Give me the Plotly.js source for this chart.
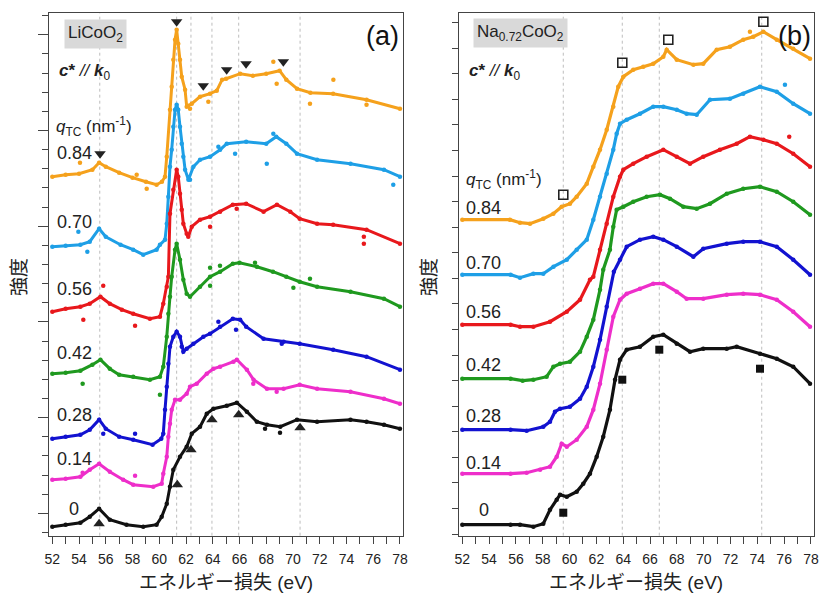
<!DOCTYPE html>
<html><head><meta charset="utf-8">
<script src="https://cdn.plot.ly/plotly-3.0.1.min.js"></script>
<style>html,body{margin:0;padding:0;background:#fff}#chart{width:822px;height:594px}</style>
</head><body><div id="chart"></div>
<script>
// ---------- data ----------
const qLabels = ['0.84', '0.70', '0.56', '0.42', '0.28', '0.14', '0'];
const seriesColors = ['#F5A11C', '#1E9FE6', '#E8181C', '#1F991F', '#1212D0', '#EE2ECA', '#111111'];

// Panel (a) LiCoO2 : energy loss (eV) and offset intensity (arb. units)
const a084E = [52,53,54,55,55.5,56,57,58,59,59.8,60.2,60.43,60.56,60.8,60.93,61.05,61.18,61.3,61.42,61.55,61.68,61.93,62.05,62.15,62.43,63.05,63.8,64.3,64.7,65,66.05,67,68,69,69.5,70.3,71.3,73,75.5,78];
const a084I = [35.9,36.1,36.2,36.6,37.3,36.9,36.3,35.8,35.4,35.1,35.4,35.9,37.9,42.6,44.9,47.6,49.6,50.6,49.2,47.6,45.9,44.6,42.9,43.0,43.2,43.9,44.2,44.5,45.6,45.7,46.2,46.0,46.2,46.5,45.6,44.7,44.3,44.2,43.6,42.7];
const a070E = [52,53,54.1,54.8,55.5,56,57.1,58.05,58.8,59.8,60.05,60.43,60.56,60.68,60.8,60.93,61.05,61.18,61.3,61.42,61.55,61.68,61.8,61.93,62.18,62.55,63.05,63.8,64.55,65.05,66.5,68,68.75,69.5,70.3,71.8,74.3,76.8,78];
const a070I = [28.9,29.0,29.1,29.4,30.7,29.9,29.1,28.6,28.1,28.6,29.1,29.6,31.2,33.9,36.9,38.6,40.9,42.6,43.1,42.6,40.9,39.2,37.9,36.6,35.6,36.9,37.6,37.9,38.6,39.2,39.4,39.2,39.9,39.2,38.2,37.6,37.2,36.6,35.9];
const a056E = [52,53,54.1,54.8,55.6,56.3,57.2,58.05,59.3,60.05,60.3,60.56,60.68,60.8,61.05,61.3,61.42,61.55,61.68,61.8,62.05,62.17,62.43,63.05,63.8,64.55,65.5,66.5,67.8,68.8,69.8,70.5,71.8,73,75.5,78];
const a056I = [22.4,22.7,22.9,23.2,23.9,23.2,22.6,22.2,21.7,21.9,23.2,24.9,25.9,32.2,34.6,36.6,35.9,34.2,32.6,31.2,30.2,29.9,30.9,31.6,31.9,32.4,33.1,33.2,32.4,33.1,32.4,31.7,31.2,31.1,30.6,29.2];
const a042E = [52,53,54.1,55,55.6,56.3,57,58.05,59.3,60.05,60.3,60.56,60.68,60.8,60.93,61.18,61.3,61.55,61.8,62.05,62.3,63.05,63.8,64.55,65.5,66,67.3,68.5,69.5,70.5,71.8,74.3,76.8,78];
const a042I = [16.2,16.3,16.5,17.1,17.6,16.7,16.1,15.9,15.6,15.9,16.9,19.9,22.2,23.9,25.9,28.6,29.2,27.6,25.6,24.2,23.9,24.9,25.9,26.4,27.2,27.3,26.9,26.4,25.9,25.4,24.9,24.4,23.7,22.9];
const a028E = [52,53,54.1,54.8,55.5,56,57,58.05,59.5,60.15,60.3,60.43,60.56,60.68,60.8,61.05,61.3,61.55,61.68,61.8,62.05,62.55,63.3,63.8,64.55,65.5,66.05,66.5,67.8,69.3,70.5,73,75.5,78];
const a028I = [9.7,9.9,10.1,10.6,11.6,10.7,9.9,9.6,9.1,9.7,10.2,12.6,14.9,17.2,18.9,19.9,20.4,19.9,18.9,18.4,18.7,19.2,19.9,20.2,20.9,21.7,21.6,20.9,19.7,19.4,19.2,18.6,17.9,16.6];
const a014E = [52,53,54.1,54.8,55.5,56.3,57.3,58.05,59.55,60.18,60.3,60.56,60.68,60.8,60.93,61.18,61.55,62.05,62.3,62.8,63.55,64.05,64.55,65.55,65.8,66.55,67.05,68.05,69.3,70.5,71.8,74.3,76.8,78];
const a014I = [5.6,5.7,5.9,6.6,7.2,6.4,5.6,5.1,4.9,5.2,6.2,7.9,9.9,11.2,12.6,13.6,13.6,14.2,14.9,15.2,16.2,16.7,16.9,17.4,17.6,16.6,15.6,14.7,14.7,15.1,14.7,14.4,13.7,13.2];
const a000E = [52,53,54.1,54.8,55.5,56.3,57.55,58.8,59.8,60.18,60.56,60.8,61.05,61.55,62.05,62.43,63.05,63.55,64.05,65.05,65.8,66.55,67.3,68.05,69.05,70.3,71.8,74.3,75.5,76.8,78];
const a000I = [0.9,1.1,1.3,1.9,2.7,1.6,1.1,0.9,1.1,1.9,3.2,4.9,6.6,7.9,8.9,10.2,10.9,12.2,12.7,13.0,13.3,12.4,11.4,11.1,10.9,11.6,11.4,11.6,11.4,11.1,10.7];

// scattered (outlying) points of panel (a), per series
const aOutE = [[54.07,58.31,59.06,62.3,63.67,68.53,68.78,71.27,73.02,75.5],
               [53.95,54.62,62.3,64.42,65.67,68.04,68.53,77.5],
               [54.32,55.81,58.19,63.8,65.79,75.3,75.3],
               [54.27,60.05,63.8,63.8,64.54,67.16,70.03,71.27],
               [55.81,58.19,64.42,65.74,69.16],
               [54.27,58.19,67.03,68.78],
               [67.91,69.03]];
const aOutI = [[37.3,36.1,34.7,42.7,43.4,47.4,45.2,43.2,45.6,43.1],
               [30.4,28.4,35.6,38.9,38.2,37.2,40.2,35.1],
               [21.6,25.0,21.0,30.9,32.7,29.9,29.2],
               [15.2,14.1,26.8,25.0,27.0,27.3,24.8,25.7],
               [10.2,10.2,21.4,20.6,19.2],
               [6.3,6.0,15.2,14.4],
               [10.7,10.3]];

// Panel (b) Na0.72CoO2
const b084E = [52,55.55,56.3,57.05,58.04,58.79,59.41,60.03,60.53,61.28,61.77,62.27,62.77,63.26,63.63,64.01,64.75,65.5,66.24,66.99,67.24,67.99,69.23,69.97,70.97,71.96,72.95,73.7,74.45,75.45,76.68,77.93];
const b084I = [31.6,31.6,31.3,31.2,31.7,32.2,32.9,33.2,33.9,35.2,36.9,38.6,40.6,42.9,44.9,45.9,46.6,46.9,47.2,47.9,48.6,47.6,47.1,47.2,48.6,48.9,49.6,49.9,50.4,49.6,48.7,47.7];
const b070E = [52,55.6,56.3,57.3,58.04,58.8,59.79,60.53,61.28,61.77,62.27,62.77,63.26,63.51,63.76,64.26,65.25,66.24,66.99,67.99,68.73,69.48,70.47,71.96,72.95,74.2,75.45,76.68,77.93];
const b070I = [26.1,26.1,25.8,26.2,26.2,26.9,27.6,28.6,29.6,31.6,33.9,36.2,38.6,40.2,41.2,41.6,42.2,42.9,42.9,42.6,42.2,42.1,43.6,43.7,44.2,44.9,44.4,43.2,42.2];
const b056E = [52,55.6,56.3,57.3,58.54,59.79,60.78,61.52,61.77,62.27,62.77,63.26,63.76,64.01,64.75,65.75,66.99,67.99,68.98,69.97,71.21,72.46,73.45,74.45,75.45,76.68,77.93];
const b056I = [21.1,21.1,20.9,20.9,21.4,22.4,23.6,25.6,25.9,28.6,31.2,33.9,35.9,36.6,37.2,37.9,38.6,37.9,37.2,37.9,38.6,39.2,39.9,39.6,39.2,38.2,36.9];
const b042E = [52,55.6,56.5,57.3,58.29,58.79,59.29,60.03,60.78,61.28,61.77,62.27,62.51,63.01,63.26,63.51,64.01,64.75,65.75,66.74,67.49,68.48,69.48,70.47,71.72,72.95,74.2,75.45,76.68,77.93];
const b042I = [15.7,15.7,15.5,15.6,15.9,16.9,17.2,17.4,18.4,19.9,21.6,24.6,26.6,28.6,30.9,32.6,32.9,33.4,33.9,34.1,33.7,32.9,32.7,33.2,34.2,34.7,34.9,34.4,33.4,32.1];
const b028E = [52,55.6,56.8,58.04,58.54,58.91,59.29,60.03,60.78,61.28,61.77,62.27,62.77,63.3,63.76,64.26,65.25,66.24,66.99,67.99,69.23,69.97,71.72,72.95,74.2,75.45,76.68,77.93];
const b028I = [10.6,10.6,10.5,10.9,11.4,12.4,12.7,12.9,13.7,14.9,16.9,19.6,22.9,26.4,27.6,28.9,29.6,29.9,29.6,28.9,27.9,28.7,29.2,29.4,29.4,28.9,27.6,26.1];
const b014E = [52,55.6,56.8,57.8,58.54,59.04,59.41,59.79,60.53,61.28,61.77,62.27,62.77,63.26,63.76,64.26,65.25,66.24,66.99,67.99,68.73,69.97,71.72,72.95,74.2,75.45,76.68,77.93];
const b014I = [6.2,6.2,6.3,6.6,6.9,7.9,9.2,8.9,9.6,10.9,12.6,15.2,18.6,21.9,23.6,24.2,24.7,25.2,25.2,24.4,23.7,23.7,24.1,24.2,24.1,23.6,22.4,20.9];
const b000E = [52,55.6,56.3,57.3,58.04,58.54,59.04,59.29,59.79,60.53,61.02,61.52,62.02,62.51,63.01,63.39,63.76,64.26,65.25,66.24,66.99,67.99,68.98,69.97,71.72,72.46,74.2,75.45,76.68,77.93];
const b000I = [1.1,1.1,1.1,0.9,1.2,2.6,3.6,4.1,3.9,4.4,5.2,6.2,7.9,9.9,12.6,15.6,17.6,18.6,18.9,19.9,20.1,19.2,18.4,18.7,18.7,18.9,18.2,17.7,16.9,15.2];

// scattered (outlying) points of panel (b), per series
const bOutE = [[73.45], [76.06], [76.38], [], [], [], []];
const bOutI = [[50.4], [45.1], [39.9], [], [], [], []];

// feature markers and guide lines
const aDownE = [55.57, 61.3, 63.29, 65.04, 66.49, 69.28];
const aDownI = [38.2, 51.4, 45.0, 46.6, 47.2, 47.4];
const aUpE = [55.5, 61.35, 62.37, 63.94, 65.94, 70.53];
const aUpI = [1.2, 5.1, 8.6, 11.6, 12.1, 10.8];
const aGuideE = [55.55, 61.3, 62.37, 63.94, 65.94, 70.53];
const bOpenE = [59.53, 63.93, 67.36, 74.45];
const bOpenI = [34.1, 47.3, 49.6, 51.4];
const bFillE = [59.53, 63.93, 66.69, 74.2];
const bFillI = [2.3, 15.6, 18.6, 16.7];
const bGuideE = [59.53, 63.93, 66.69, 74.33];

const xTitle = 'エネルギー損失 (eV)';
const yTitle = '強度';

// ---------- build ----------
const W = 822, H = 594;
const PX = x => x / W, PY = y => 1 - y / H;
const FONT = 'Liberation Sans, Arial, Noto Sans CJK JP, sans-serif';

const aSets = [[a084E,a084I],[a070E,a070I],[a056E,a056I],[a042E,a042I],[a028E,a028I],[a014E,a014I],[a000E,a000I]];
const bSets = [[b084E,b084I],[b070E,b070I],[b056E,b056I],[b042E,b042I],[b028E,b028I],[b014E,b014I],[b000E,b000I]];

const traces = [];
aSets.forEach((s, i) => traces.push({x: s[0], y: s[1], xaxis: 'x', yaxis: 'y', mode: 'lines+markers',
  line: {color: seriesColors[i], width: 3}, marker: {color: seriesColors[i], size: 4.5}, name: qLabels[i], hoverinfo: 'x+y'}));
bSets.forEach((s, i) => traces.push({x: s[0], y: s[1], xaxis: 'x2', yaxis: 'y2', mode: 'lines+markers',
  line: {color: seriesColors[i], width: 3.2}, marker: {color: seriesColors[i], size: 4.5}, name: qLabels[i], hoverinfo: 'x+y'}));
aOutE.forEach((e, i) => traces.push({x: e, y: aOutI[i], xaxis: 'x', yaxis: 'y', mode: 'markers', marker: {color: seriesColors[i], size: 4.5}}));
bOutE.forEach((e, i) => { if (e.length) traces.push({x: e, y: bOutI[i], xaxis: 'x2', yaxis: 'y2', mode: 'markers', marker: {color: seriesColors[i], size: 4.5}}); });
traces.push({x: aDownE, y: aDownI, xaxis: 'x', yaxis: 'y', mode: 'markers', marker: {symbol: 'triangle-down', size: 10, color: '#222'}});
traces.push({x: aUpE, y: aUpI, xaxis: 'x', yaxis: 'y', mode: 'markers', marker: {symbol: 'triangle-up', size: 10, color: '#222'}});
traces.push({x: bOpenE, y: bOpenI, xaxis: 'x2', yaxis: 'y2', mode: 'markers', marker: {symbol: 'square-open', size: 9, color: '#222', line: {width: 1.6, color: '#222'}}});
traces.push({x: bFillE, y: bFillI, xaxis: 'x2', yaxis: 'y2', mode: 'markers', marker: {symbol: 'square', size: 8, color: '#111'}});

const shapes = [];
aGuideE.forEach(e => shapes.push({type: 'line', xref: 'x', yref: 'y domain', x0: e, x1: e, y0: 0, y1: 1, layer: 'below', line: {color: '#bdbdbd', width: 1, dash: 'dot'}}));
bGuideE.forEach(e => shapes.push({type: 'line', xref: 'x2', yref: 'y2 domain', x0: e, x1: e, y0: 0, y1: 1, layer: 'below', line: {color: '#bdbdbd', width: 1, dash: 'dot'}}));

const txt = (text, x, y, opts) => Object.assign({text: text, x: PX(x), y: PY(y), xref: 'paper', yref: 'paper', showarrow: false,
  xanchor: 'center', yanchor: 'middle', font: {family: FONT, size: 18, color: '#222'}}, opts || {});

const annotations = [];
const aLabelY = [153, 221.7, 289.3, 353.3, 415, 459.3, 509.3];
const bLabelY = [208.3, 262.7, 311.7, 365, 416, 463.3, 510];
qLabels.forEach((q, i) => { annotations.push(txt(q, 74, aLabelY[i])); annotations.push(txt(q, 484, bLabelY[i])); });
annotations.push(txt('LiCoO<sub>2</sub>', 95, 34, {bgcolor: '#d9d9d9', borderpad: 3, font: {family: FONT, size: 17, color: '#222'}}));
annotations.push(txt('Na<sub>0.72</sub>CoO<sub>2</sub>', 520, 33, {bgcolor: '#d9d9d9', borderpad: 3, font: {family: FONT, size: 17, color: '#222'}}));
annotations.push(txt('(a)', 401, 36, {xanchor: 'right', font: {family: FONT, size: 27, color: '#111'}}));
annotations.push(txt('(b)', 813, 36, {xanchor: 'right', font: {family: FONT, size: 27, color: '#111'}}));
const cText = '<b><i>c</i>*</b> <i>//</i> <b><i>k</i></b><sub>0</sub>';
annotations.push(txt(cText, 57, 72, {xanchor: 'left', font: {family: FONT, size: 17, color: '#222'}}));
annotations.push(txt(cText, 467, 72, {xanchor: 'left', font: {family: FONT, size: 17, color: '#222'}}));
const qText = '<i>q</i><sub>TC</sub> (nm<sup>-1</sup>)';
annotations.push(txt(qText, 54, 126, {xanchor: 'left', font: {family: FONT, size: 17, color: '#222'}}));
annotations.push(txt(qText, 464, 180, {xanchor: 'left', font: {family: FONT, size: 17, color: '#222'}}));
annotations.push(txt(yTitle, 20, 277, {textangle: -90, font: {family: FONT, size: 19, color: '#222'}}));
annotations.push(txt(yTitle, 430, 277, {textangle: -90, font: {family: FONT, size: 19, color: '#222'}}));
annotations.push(txt(xTitle, 226, 582, {font: {family: FONT, size: 19, color: '#222'}}));
annotations.push(txt(xTitle, 636, 582, {font: {family: FONT, size: 19, color: '#222'}}));

const xBase = {range: [51.776, 78.25], tickmode: 'linear', tick0: 52, dtick: 2, ticks: 'outside', ticklen: 7, tickwidth: 1, tickcolor: '#444',
  minor: {tickmode: 'linear', tick0: 52, dtick: 1, ticks: 'outside', ticklen: 7, tickcolor: '#444'},
  showline: true, mirror: true, linecolor: '#444', linewidth: 1, showgrid: false, zeroline: false, ticklabelstandoff: 3,
  tickfont: {family: FONT, size: 14, color: '#222'}};
const yBase = {range: [0, 52.24], showline: true, mirror: true, linecolor: '#444', linewidth: 1, showgrid: false, zeroline: false,
  showticklabels: false, ticks: 'outside', tickcolor: '#444', tickmode: 'linear'};

const layout = {
  width: W, height: H, margin: {l: 0, r: 0, t: 0, b: 0}, paper_bgcolor: '#fff', plot_bgcolor: '#fff', showlegend: false,
  font: {family: FONT},
  xaxis: Object.assign({}, xBase, {domain: [PX(49.3), PX(403.3)], anchor: 'y'}),
  xaxis2: Object.assign({}, xBase, {domain: [PX(459.3), PX(814)], anchor: 'y2', range: [51.776, 78.227]}),
  yaxis: Object.assign({}, yBase, {domain: [PY(535.7), PY(13.3)], anchor: 'x', tick0: 2.24, dtick: 9.57, ticklen: 10,
    minor: {tickmode: 'linear', tick0: 2.24, dtick: 1.914, ticks: 'outside', ticklen: 6, tickcolor: '#444'}}),
  yaxis2: Object.assign({}, yBase, {domain: [PY(535.7), PY(13.3)], anchor: 'x2', tick0: 0.17, dtick: 2.557, ticklen: 6}),
  shapes: shapes, annotations: annotations
};
Plotly.newPlot('chart', traces, layout, {displayModeBar: false, staticPlot: true});
</script></body></html>
